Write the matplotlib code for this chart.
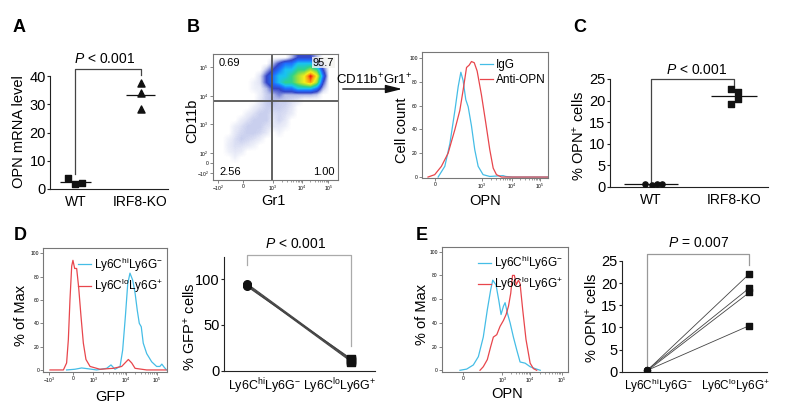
import numpy as np
import matplotlib
matplotlib.use("Agg")
import matplotlib.pyplot as plt
from matplotlib.colors import LinearSegmentedColormap
from matplotlib.patches import FancyArrowPatch

plt.rcParams['font.family'] = ['Liberation Sans', 'DejaVu Sans']
plt.rcParams['mathtext.fontset'] = 'custom'
plt.rcParams['mathtext.rm'] = 'Liberation Sans'
plt.rcParams['mathtext.it'] = 'Liberation Sans:italic'
plt.rcParams['mathtext.bf'] = 'Liberation Sans:bold'

# ---------------- data ----------------
groups = ["WT", "IRF8-KO"]
a_wt = [3.8, 1.6, 2.1]            # OPN mRNA level
a_ko = [37.5, 34.0, 28.2]
c_wt = [0.6, 0.5, 0.6, 0.7]       # % OPN+ cells
c_ko = [22.7, 22.1, 20.4, 19.3]

subsets = [r"Ly6C$^{\mathrm{hi}}$Ly6G$^{-}$", r"Ly6C$^{\mathrm{lo}}$Ly6G$^{+}$"]
d_hi = [95, 93, 92, 94]           # % GFP+ cells
d_lo = [12, 10, 13, 11]
e_hi = [0.3, 0.4, 0.2, 0.3]       # % OPN+ cells
e_lo = [22.1, 18.9, 17.9, 10.4]

# flow histograms: x in display channel units (0-100 across the plot), y = % of max
b_igg_x = [13, 18.3, 22.3, 26.3, 28.9, 31, 32.8, 34.9, 36.8, 39.4, 42, 44.7, 48.6, 53.9, 64.4, 66.5, 72, 100]
b_igg_y = [0, 9, 28, 56, 76, 88, 81, 65, 59, 43, 23, 9, 2, 0.5, 1.2, 0.5, 0, 0]
b_opn_x = [5, 10.3, 15.6, 20.9, 26.3, 30.2, 32.8, 35.5, 37.6, 39.4, 41.6, 43.9, 47.3, 50.8, 53.9, 56.6, 59.2, 63.2, 100]
b_opn_y = [0, 2, 9, 20, 40, 56, 73, 92, 94, 97, 96, 89, 69, 45, 23, 7.5, 2, 0, 0]

d_hi_x = [18.8, 25.5, 30.9, 35.5, 43, 51.1, 54.6, 57.8, 61.9, 64, 66.2, 68.1, 69.9, 72.1, 74, 75.8,
          77.4, 79, 80.6, 83.4, 87.4, 91.4, 94, 95.6, 97.5, 99.4]
d_hi_y = [0, 0.6, 1.7, 1.1, 0, 1.4, 4.3, 0.6, 3, 17, 46, 74, 83, 77, 66, 51,
          40, 37, 23, 14, 7, 3, 3, 5, 2.3, 0]
d_lo_x = [5.4, 16.2, 18.8, 20.2, 21.5, 22.9, 23.9, 25.3, 26.9, 28.5, 30.4, 32.3, 34.4, 37.7,
          45.7, 56.5, 63.2, 68.6, 71.3, 74, 83.4, 99]
d_lo_y = [0, 0, 6, 26, 60, 89, 94, 87, 87, 71, 46, 23, 9, 3,
          0.6, 1.4, 3, 9, 6, 1.4, 0, 0]

e_hi_x = [14.5, 19.8, 25.1, 29.1, 33, 36.2, 38.9, 40.5, 43.1, 45.3, 47.1, 49, 50.3, 52.2, 54.3,
          56.9, 59.6, 62.2, 66.2, 70.2, 74.2, 78.2]
e_hi_y = [0, 1, 4.5, 11.5, 28, 51, 68, 76, 72, 59, 47, 54, 57, 48, 40,
          28, 17, 7, 6, 3, 1.4, 0]
e_lo_x = [30.4, 33, 36.2, 38.9, 41, 43.7, 46.3, 49, 51.1, 53, 54.8, 56.2, 57.7, 59.1, 60.9,
          62.2, 64.3, 66.9, 70.2, 72.8, 75.4]
e_lo_y = [0, 3, 9, 20, 28, 30, 37, 42, 47, 54, 65, 80, 80, 72, 76,
          73, 51, 26, 6, 1.4, 0]

# CD11b vs Gr1 density (20x20 cells over channel 0-100, top row = high CD11b)
dens = [
    [0, 0, 0, 0, 0, 0, 0, 0, 0, 0, 0, 0, 1, 2, 2, 2, 1, 0, 0, 0],
    [0, 0, 0, 0, 0, 0, 0, 0, 0, 1, 2, 3, 3, 4, 4, 4, 3, 1, 0, 0],
    [0, 0, 0, 0, 0, 0, 0, 0, 1, 2, 3, 4, 4, 5, 5, 6, 5, 2, 0, 0],
    [0, 0, 0, 0, 0, 0, 0, 0.6, 2, 3, 4, 4, 5, 6, 7, 9, 7, 3, 0, 0],
    [0, 0, 0, 0, 0, 0, 0.3, 0.6, 2, 3, 4, 5, 5, 6, 7, 8, 6, 2, 0, 0],
    [0, 0, 0, 0, 0, 0, 0.3, 0.4, 1, 2, 2, 3, 3, 4, 4, 4, 3, 1, 0, 0],
    [0, 0, 0, 0, 0, 0, 0, 0.4, 0.8, 1, 1.5, 1, 1, 1, 1, 1, 0.8, 0, 0, 0],
    [0, 0, 0, 0, 0, 0, 0, 0.5, 0.8, 1, 0.8, 0.8, 0.6, 0.4, 0, 0, 0, 0, 0, 0],
    [0, 0, 0, 0, 0, 0, 0.4, 0.6, 0.8, 0.8, 0.8, 0.7, 0.5, 0, 0, 0, 0, 0, 0, 0],
    [0, 0, 0, 0, 0, 0.4, 0.6, 0.8, 0.8, 0.6, 0.7, 0.6, 0.4, 0, 0, 0, 0, 0, 0, 0],
    [0, 0, 0, 0, 0.4, 0.6, 0.8, 0.8, 0.8, 0.5, 0.7, 0.5, 0, 0, 0, 0, 0, 0, 0, 0],
    [0, 0, 0, 0.4, 0.6, 0.8, 0.8, 0.8, 0.6, 0.5, 0.5, 0.3, 0, 0, 0, 0, 0, 0, 0, 0],
    [0, 0, 0, 0.5, 0.7, 0.8, 0.8, 0.7, 0.5, 0, 0.3, 0, 0, 0, 0, 0, 0, 0, 0, 0],
    [0, 0, 0.3, 0.6, 0.8, 0.7, 0.6, 0.4, 0, 0, 0, 0, 0, 0, 0, 0, 0, 0, 0, 0],
    [0, 0, 0.4, 0.6, 0.6, 0.5, 0.3, 0, 0, 0, 0, 0, 0, 0, 0, 0, 0, 0, 0, 0],
    [0, 0, 0.3, 0.5, 0.4, 0, 0, 0, 0, 0, 0, 0, 0, 0, 0, 0, 0, 0, 0, 0],
    [0, 0, 0, 0.3, 0, 0, 0, 0, 0, 0, 0, 0, 0, 0, 0, 0, 0, 0, 0, 0],
    [0] * 20, [0] * 20, [0] * 20,
]
gate_x, gate_y = 47.4, 62.9
quad_pct = ["0.69", "95.7", "2.56", "1.00"]   # UL, UR, LL, LR

# ---------------- layout helpers ----------------
W, H = 787, 412
fig = plt.figure(figsize=(W / 100, H / 100), dpi=100)
CYAN, RED = "#45bde6", "#e8464c"
DARK = "#222222"


def box(l, t, r, b):
    return fig.add_axes([l / W, 1 - b / H, (r - l) / W, (b - t) / H])


def ftxt(x, y, s, **kw):
    kw.setdefault("ha", "center")
    kw.setdefault("va", "center")
    fig.text(x / W, 1 - y / H, s, **kw)


def dot_axes(ax, xlim, ylim, yticks):
    ax.set_xlim(*xlim); ax.set_ylim(*ylim)
    for s in ["top", "right"]:
        ax.spines[s].set_visible(False)
    for s in ["left", "bottom"]:
        ax.spines[s].set_color(DARK); ax.spines[s].set_linewidth(0.8)
    ax.set_yticks(yticks)
    ax.tick_params(axis="y", length=2.5, width=0.8, pad=0.5, labelsize=10.5, color=DARK)
    ax.tick_params(axis="x", length=0, pad=4, labelsize=10)


def bracket(ax, x1, x2, top, y1, y2, color="#444444"):
    ax.plot([x1, x1, x2, x2], [y1, top, top, y2], color=color, lw=0.9, clip_on=False)


def flow_axes(ax, xt, xl, yt, yl, ylim):
    ax.set_xlim(0, 100); ax.set_ylim(*ylim)
    for s in ax.spines.values():
        s.set_color("#777777"); s.set_linewidth(0.8)
    ax.set_xticks(xt); ax.set_xticklabels(xl)
    ax.set_yticks(yt); ax.set_yticklabels(yl)
    ax.tick_params(length=2, width=0.5, pad=0.8, labelsize=3.6, color="#555555")
    ax.tick_params(which="minor", length=1.2, width=0.4, color="#555555")
    # log-spaced minor ticks between decade positions
    mx = []
    for a, b in zip(xt[-3:-1], xt[-2:]):
        mx += [a + (b - a) * np.log10(k) for k in range(2, 10)]
    ax.set_xticks(mx, minor=True)


def flow_legend(ax, anchor):
    ax.legend(loc="upper right", bbox_to_anchor=anchor, frameon=False, fontsize=8.5,
              handlelength=1.1, handletextpad=0.25, labelspacing=0.25, borderaxespad=0.2)


decx = ["0", "$10^3$", "$10^4$", "$10^5$"]
pct_ticks = [0, 20, 40, 60, 80, 100]
pct_labels = [str(v) for v in pct_ticks]

# ---------------- A ----------------
ax = box(50, 76, 168, 189)
dot_axes(ax, (0.61, 2.42), (0, 40), [0, 10, 20, 30, 40])
ax.scatter(np.array([1 - 0.11, 1, 1 + 0.1]), a_wt, marker="s", s=22, color="#111111", zorder=3)
ax.scatter([2] * len(a_ko), a_ko, marker="^", s=26, color="#111111", zorder=3)
ax.hlines(np.mean(a_wt), 1 - 0.24, 1 + 0.24, color="#111111", lw=0.9)
ax.hlines(np.mean(a_ko), 2 - 0.22, 2 + 0.22, color="#111111", lw=0.9)
ax.set_xticks([1, 2]); ax.set_xticklabels(groups)
bracket(ax, 1, 2, 42.5, 5.3, 40.4)
ax.text(1.45, 46, "$P$ < 0.001", ha="center", va="center", fontsize=10, clip_on=False)
ftxt(19, 132, "OPN mRNA level", rotation=90, fontsize=10.5)

# ---------------- B: density ----------------
cmap = LinearSegmentedColormap.from_list("flow", [
    (0, "#ffffff"), (0.5 / 9, "#e4e7f6"), (1 / 9, "#b4bce8"), (2 / 9, "#3346c8"),
    (3 / 9, "#1f6fff"), (4 / 9, "#19c3f0"), (5 / 9, "#2fd38a"), (6 / 9, "#a3e03a"),
    (7 / 9, "#f5ee1c"), (8 / 9, "#ff9a10"), (1, "#f01010")])
ax = box(212.7, 54, 338, 180)
ax.imshow(np.array(dens, dtype=float), extent=[0, 100, 0, 100], origin="upper",
          cmap=cmap, vmin=0, vmax=9, interpolation="bilinear", aspect="auto")
ax.axvline(gate_x, color="#555555", lw=1.3)
ax.axhline(gate_y, color="#555555", lw=1.3)
flow_axes(ax, [4.2, 24.2, 48.2, 71.4, 92.2], ["$-10^2$", "0", "$10^3$", "$10^4$", "$10^5$"],
          [5.6, 13.5, 21.4, 44.4, 66.7, 89.7],
          ["$-10^2$", "0", "$10^2$", "$10^3$", "$10^4$", "$10^5$"], (0, 100))
qk = dict(fontsize=8, transform=ax.transAxes)
ax.text(0.05, 0.93, quad_pct[0], ha="left", va="center", **qk)
ax.text(0.97, 0.93, quad_pct[1], ha="right", va="center",
        bbox=dict(boxstyle="square,pad=0.05", fc="#f4f4f0", ec="none", alpha=0.8), **qk)
ax.text(0.05, 0.065, quad_pct[2], ha="left", va="center", **qk)
ax.text(0.97, 0.065, quad_pct[3], ha="right", va="center", **qk)
ftxt(192, 121, "CD11b", rotation=90, fontsize=10.5)
ftxt(273, 201, "Gr1", fontsize=10.5)

arr = FancyArrowPatch((340 / W, 1 - 89 / H), (405 / W, 1 - 89 / H), transform=fig.transFigure,
                      arrowstyle="-|>,head_length=1.0,head_width=0.25", mutation_scale=10,
                      color="#111111", lw=1.0)
fig.patches.append(arr)
ftxt(374, 80, "CD11b$^{+}$Gr1$^{+}$", fontsize=9.5)

# ---------------- B: histogram ----------------
ax = box(421.7, 52, 548, 178)
ax.plot(b_igg_x, b_igg_y, color=CYAN, lw=0.9, label="IgG")
ax.plot(b_opn_x, b_opn_y, color=RED, lw=0.9, label="Anti-OPN")
flow_axes(ax, [10.5, 47.5, 71.3, 93.7], decx, pct_ticks, pct_labels, (-0.8, 105))
flow_legend(ax, (1.04, 1.0))
ftxt(402, 130, "Cell count", rotation=90, fontsize=10.5)
ftxt(485, 201, "OPN", fontsize=10.5)

# ---------------- C ----------------
ax = box(609.5, 79, 768, 187)
dot_axes(ax, (0.5, 2.41), (0, 25), [0, 5, 10, 15, 20, 25])
ax.scatter(np.array([1 - 0.07, 1 + 0.01, 1 + 0.07, 1 + 0.13]), c_wt, marker="o", s=14,
           color="#111111", zorder=3)
ax.scatter(np.array([2 - 0.04, 2 + 0.045, 2 + 0.045, 2 - 0.04]), c_ko, marker="s", s=22,
           color="#111111", zorder=3)
ax.hlines(np.mean(c_wt), 1 - 0.33, 1 + 0.33, color="#111111", lw=0.9)
ax.hlines(np.mean(c_ko), 2 - 0.28, 2 + 0.28, color="#111111", lw=0.9)
ax.set_xticks([1, 2]); ax.set_xticklabels(groups)
bracket(ax, 1, 2, 25, 1.2, 23.6)
ax.text(1.55, 27.1, "$P$ < 0.001", ha="center", va="center", fontsize=10, clip_on=False)
ftxt(579, 136, "% OPN$^{+}$ cells", rotation=90, fontsize=10.5)

# ---------------- D: histogram ----------------
ax = box(43.3, 248.3, 167.3, 371.7)
ax.plot(d_hi_x, d_hi_y, color=CYAN, lw=0.9, label=subsets[0])
ax.plot(d_lo_x, d_lo_y, color=RED, lw=0.9, label=subsets[1])
flow_axes(ax, [4.8, 24.2, 40.3, 66.7, 91.7], ["$-10^3$", "0", "$10^3$", "$10^4$", "$10^5$"],
          pct_ticks, pct_labels, (-1.5, 104.3))
flow_legend(ax, (1.02, 1.0))
ftxt(21, 315, "% of Max", rotation=90, fontsize=10.5)
ftxt(110, 397, "GFP", fontsize=10.5)

# ---------------- D: paired ----------------
ax = box(224, 257, 375, 370.7)
dot_axes(ax, (0.78, 2.23), (0, 124), [0, 50, 100])
for h, l in zip(d_hi, d_lo):
    ax.plot([1, 2], [h, l], color="#444444", lw=0.8)
ax.scatter([1] * len(d_hi), d_hi, marker="o", s=30, color="#111111", zorder=3)
ax.scatter([2] * len(d_lo), d_lo, marker="s", s=30, color="#111111", zorder=3)
# category labels sit packed under the axis, nudged inwards as in the original
ax.set_xticks([1.17, 1.89]); ax.set_xticklabels(subsets, fontsize=9)
bracket(ax, 1, 2, 126, 115, 27, color="#aaaaaa")
ax.text(1.47, 138, "$P$ < 0.001", ha="center", va="center", fontsize=10, clip_on=False)
ftxt(190, 327, "% GFP$^{+}$ cells", rotation=90, fontsize=10.5)

# ---------------- E: histogram ----------------
ax = box(441.7, 246.7, 567.7, 372.3)
ax.plot(e_hi_x, e_hi_y, color=CYAN, lw=0.9, label=subsets[0])
ax.plot(e_lo_x, e_lo_y, color=RED, lw=0.9, label=subsets[1])
flow_axes(ax, [16.9, 48.1, 70.1, 95.2], decx, pct_ticks, pct_labels, (-1.7, 104.2))
flow_legend(ax, (1.02, 1.0))
ftxt(422, 314, "% of Max", rotation=90, fontsize=10.5)
ftxt(507, 394, "OPN", fontsize=10.5)

# ---------------- E: paired ----------------
ax = box(621.7, 261, 766.7, 371.7)
dot_axes(ax, (0.75, 2.17), (0, 25), [0, 5, 10, 15, 20, 25])
for h, l in zip(e_hi, e_lo):
    ax.plot([1, 2], [h, l], color="#444444", lw=0.6)
ax.scatter([1] * len(e_hi), e_hi, marker="o", s=18, color="#111111", zorder=3)
ax.scatter([2] * len(e_lo), e_lo, marker="s", s=22, color="#111111", zorder=3)
ax.set_xticks([1.11, 1.86]); ax.set_xticklabels(subsets, fontsize=8.5)
bracket(ax, 1, 2, 26.5, 1.0, 24, color="#999999")
ax.text(1.5, 29, "$P$ = 0.007", ha="center", va="center", fontsize=10, clip_on=False)
ftxt(592, 318, "% OPN$^{+}$ cells", rotation=90, fontsize=10.5)

# ---------------- panel letters ----------------
for x, y, L in [(19, 27, "A"), (193, 27, "B"), (580, 27, "C"), (20, 235, "D"), (422, 235, "E")]:
    ftxt(x, y, L, fontsize=13, fontweight="bold")

fig.savefig("out.png", dpi=100)
